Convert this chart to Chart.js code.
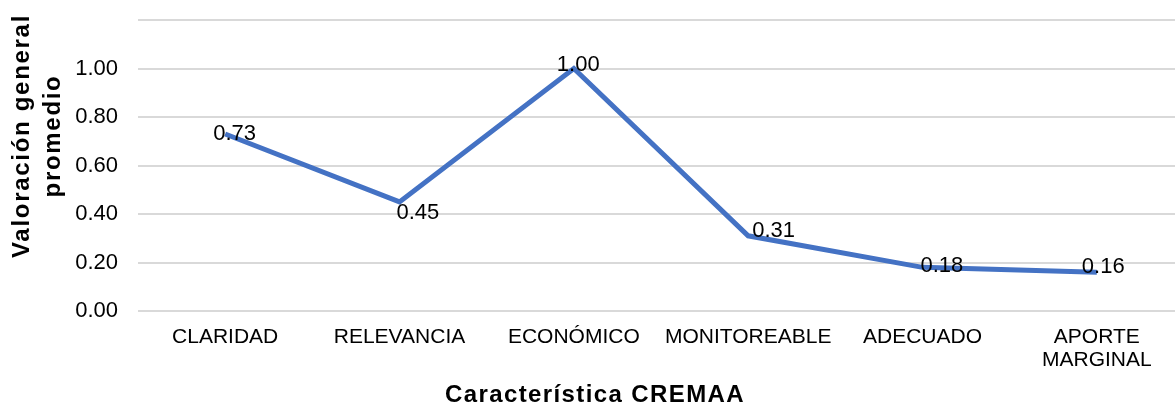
<!DOCTYPE html>
<html>
<head>
<meta charset="utf-8">
<script src="https://cdn.jsdelivr.net/npm/chart.js@4.4.1/dist/chart.umd.min.js"></script>
<style>
html,body{margin:0;padding:0;background:#fff;overflow:hidden;}
#wrap{width:1184px;height:403px;}
</style>
</head>
<body>
<div id="wrap"><canvas id="c" width="1184" height="403"></canvas></div>
<script>
// ---- data ----
const categories = ['CLARIDAD', 'RELEVANCIA', 'ECONÓMICO', 'MONITOREABLE', 'ADECUADO', ['APORTE', 'MARGINAL']];
const values = [0.73, 0.45, 1.00, 0.31, 0.18, 0.16];
const yMin = 0;
const yMax = 1.2;
const yStep = 0.2;
const xTitle = 'Característica CREMAA';
const yTitleLines = ['Valoración general', 'promedio'];

// label placement (dx to text left, dy to text centre) relative to each point
const labelOffsets = [[-12, -2], [-3, 9], [-17, -5], [4, -7], [-2, -3], [-15, -7]];

const FONT = '"Liberation Sans", Arial, sans-serif';

const annotate = {
  id: 'annotate',
  afterDatasetsDraw(chart) {
    const ctx = chart.ctx;
    const meta = chart.getDatasetMeta(0);
    ctx.save();
    ctx.font = '22px ' + FONT;
    ctx.fillStyle = '#000';
    ctx.textAlign = 'left';
    ctx.textBaseline = 'alphabetic';
    meta.data.forEach((pt, i) => {
      const o = labelOffsets[i];
      ctx.fillText(values[i].toFixed(2), pt.x + o[0], pt.y + o[1] + 7.8);
    });
    ctx.restore();
  },
  afterDraw(chart) {
    const ctx = chart.ctx;
    ctx.save();
    ctx.fillStyle = '#000';
    // x title
    ctx.font = 'bold 24px ' + FONT;
    ctx.letterSpacing = '1.4px';
    ctx.textAlign = 'center';
    ctx.textBaseline = 'alphabetic';
    ctx.fillText(xTitle, 595, 402);
    // y title
    ctx.font = 'bold 24px ' + FONT;
    ctx.letterSpacing = '1.7px';
    const cy = 136;
    const baseX = [29, 60];
    yTitleLines.forEach((t, i) => {
      ctx.save();
      ctx.translate(baseX[i], cy);
      ctx.rotate(-Math.PI / 2);
      ctx.textAlign = 'center';
      ctx.fillText(t, 0, 0);
      ctx.restore();
    });
    ctx.restore();
  }
};

new Chart(document.getElementById('c'), {
  type: 'line',
  data: {
    labels: categories,
    datasets: [{
      data: values,
      borderColor: '#4472C4',
      backgroundColor: '#4472C4',
      borderWidth: 5,
      pointRadius: 0,
      pointHoverRadius: 0,
      tension: 0,
      fill: false
    }]
  },
  options: {
    responsive: false,
    animation: false,
    devicePixelRatio: 1,
    layout: { padding: { top: 20, right: 0, bottom: 0, left: 0 } },
    plugins: { legend: { display: false }, tooltip: { enabled: false } },
    scales: {
      x: {
        offset: true,
        grid: { display: false, drawTicks: false },
        border: { display: false },
        ticks: {
          color: '#000',
          font: { family: FONT, size: 21, lineHeight: 1.1 },
          padding: 15,
          maxRotation: 0,
          autoSkip: false
        },
        afterFit(s) { s.height = 92; s.paddingLeft = 0; s.paddingRight = 0; }
      },
      y: {
        min: yMin,
        max: yMax,
        grid: { color: '#d9d9d9', lineWidth: 2, drawTicks: false },
        border: { display: false },
        ticks: {
          stepSize: yStep,
          color: '#000',
          font: { family: FONT, size: 22 },
          padding: 20,
          callback: (v) => (v > 1.01 ? '' : Number(v).toFixed(2))
        },
        afterFit(s) { s.width = 138; s.paddingTop = 0; s.paddingBottom = 0; }
      }
    }
  },
  plugins: [annotate]
});
</script>
</body>
</html>
